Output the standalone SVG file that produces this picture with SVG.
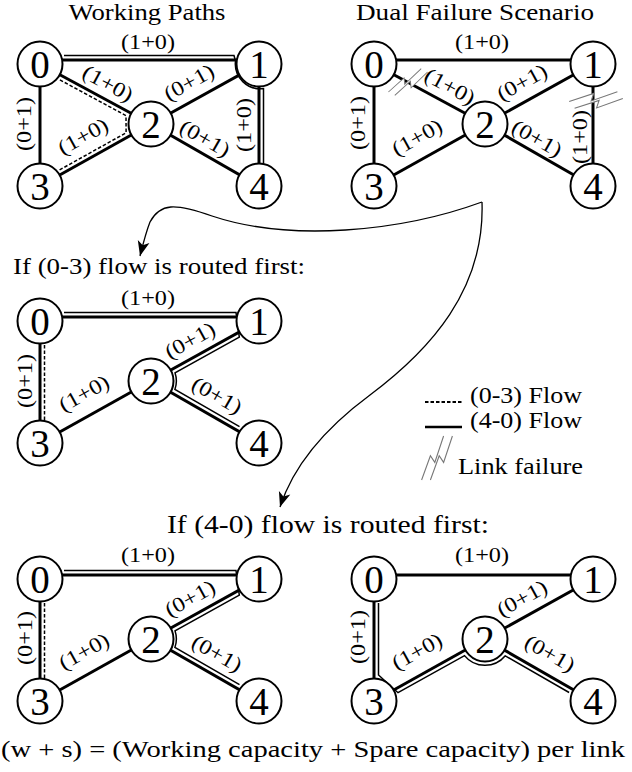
<svg xmlns="http://www.w3.org/2000/svg" xmlns:xlink="http://www.w3.org/1999/xlink" width="632" height="772" viewBox="0 0 632 772">
<style>
  .t { font-family: "Liberation Serif", "Times New Roman", serif; fill: #000; }
  .title { font-size: 24px; }
  .lbl { font-size: 21px; text-anchor: middle; }
  .node circle { fill: #fff; stroke: #000; stroke-width: 2; }
  .node text { font-family: "Liberation Serif", "Times New Roman", serif; font-size: 39px; text-anchor: middle; fill: #000; }
  .link { stroke: #000; stroke-width: 3; fill: none; }
  .flow { stroke: #000; stroke-width: 1.5; fill: none; stroke-linejoin: miter; }
  .dash { stroke-dasharray: 3.5 2; }
  .fail path.bg { fill: #fff; stroke: none; }
  .fail path.ln { fill: none; stroke: #777; stroke-width: 1; }
  .arrow { stroke: #000; stroke-width: 1.3; fill: none; marker-end: url(#ah); }
</style>
<defs>
  <marker id="ah" viewBox="-16 -7 17 14" refX="0" refY="0" markerWidth="17" markerHeight="14" markerUnits="userSpaceOnUse" orient="auto">
    <path d="M0,0 L-15,-6 L-11,0 L-15,6 Z" fill="#000"/>
  </marker>
  <g id="bolt" class="fail">
    <path class="bg" d="M-14,20 L-6,-2 L-2,4 L6,-20 L14,-20 L6,4 L2,-2 L-6,20 Z"/>
    <path class="ln" d="M-14,20 L-6,-2 L-2,4 L6,-20"/>
    <path class="ln" d="M-6,20 L2,-2 L6,4 L14,-20"/>
  </g>
</defs>
<rect width="632" height="772" fill="#fff"/>

<!-- Titles -->
<text class="t title" x="147" y="20" text-anchor="middle" textLength="157" lengthAdjust="spacingAndGlyphs">Working Paths</text>
<text class="t title" x="475" y="20" text-anchor="middle" textLength="238" lengthAdjust="spacingAndGlyphs">Dual Failure Scenario</text>
<text class="t title" x="13" y="274" textLength="292" lengthAdjust="spacingAndGlyphs">If (0-3) flow is routed first:</text>
<text class="t title" x="328" y="533" text-anchor="middle" textLength="322" lengthAdjust="spacingAndGlyphs" style="font-size:25px">If (4-0) flow is routed first:</text>
<text class="t title" x="1" y="757" textLength="624" lengthAdjust="spacingAndGlyphs">(w + s) = (Working capacity + Spare capacity) per link</text>

<!-- Panel 1: Working Paths -->
<g id="panel1" transform="translate(0,0)">
  <g id="p1-connectors">
    <path class="link" d="M40,60 H259"/>
    <path class="link" d="M40,64 L151,124"/>
    <path class="link" d="M40,64 V186"/>
    <path class="link" d="M259,64 L151,124"/>
    <path class="link" d="M259,64 V186"/>
    <path class="link" d="M151,124 L40,186"/>
    <path class="link" d="M151,124 L259,186"/>
    <path class="flow dash" d="M59.9,79.9 L126,115.6 L126.1,132.8 L59.6,169.9"/>
    <path class="flow" d="M64,55.5 H234 L235.5,61 A25,25 0 0 0 263.5,88.6 V163"/>
    <g class="t lbl">
      <text x="148" y="49" textLength="54" lengthAdjust="spacingAndGlyphs">(1+0)</text>
      <text transform="translate(107,85) rotate(28.4)" y="5" textLength="54" lengthAdjust="spacingAndGlyphs">(1+0)</text>
      <text transform="translate(190,84) rotate(-29)" y="5" textLength="54" lengthAdjust="spacingAndGlyphs">(0+1)</text>
      <text transform="translate(84,138) rotate(-29.2)" y="5" textLength="54" lengthAdjust="spacingAndGlyphs">(1+0)</text>
      <text transform="translate(204,140) rotate(29.9)" y="5" textLength="54" lengthAdjust="spacingAndGlyphs">(0+1)</text>
      <text transform="translate(26,124) rotate(-90)" y="5" textLength="54" lengthAdjust="spacingAndGlyphs">(0+1)</text>
      <text transform="translate(246,125) rotate(-90)" y="5" textLength="54" lengthAdjust="spacingAndGlyphs">(1+0)</text>
    </g>
  </g>
  <g id="p1-n0" class="node" transform="translate(40,64)"><circle r="22.5"/><text y="13.5">0</text></g>
  <g id="p1-n1" class="node" transform="translate(259,64)"><circle r="22.5"/><text y="13.5">1</text></g>
  <g id="p1-n2" class="node" transform="translate(151,124)"><circle r="22.5"/><text y="13.5">2</text></g>
  <g id="p1-n3" class="node" transform="translate(40,186)"><circle r="22.5"/><text y="13.5">3</text></g>
  <g id="p1-n4" class="node" transform="translate(259,186)"><circle r="22.5"/><text y="13.5">4</text></g>
</g>

<!-- Panel 2: Dual Failure Scenario -->
<g id="panel2" transform="translate(334,0)">
  <g id="p2-connectors">
    <path class="link" d="M40,60 H259"/>
    <path class="link" d="M40,64 L151,124"/>
    <path class="link" d="M40,64 V186"/>
    <path class="link" d="M259,64 L151,124"/>
    <path class="link" d="M259,64 V186"/>
    <path class="link" d="M151,124 L40,186"/>
    <path class="link" d="M151,124 L259,186"/>
    <use xlink:href="#bolt" href="#bolt" transform="translate(74,82) rotate(28) scale(0.9)"/>
    <use xlink:href="#bolt" href="#bolt" transform="translate(262,100) rotate(52) scale(1.1)"/>
    <g class="t lbl">
      <text x="148" y="49" textLength="54" lengthAdjust="spacingAndGlyphs">(1+0)</text>
      <text transform="translate(115,88) rotate(28.4)" y="5" textLength="54" lengthAdjust="spacingAndGlyphs">(1+0)</text>
      <text transform="translate(189,84) rotate(-29)" y="5" textLength="54" lengthAdjust="spacingAndGlyphs">(0+1)</text>
      <text transform="translate(84,139) rotate(-29.2)" y="5" textLength="54" lengthAdjust="spacingAndGlyphs">(1+0)</text>
      <text transform="translate(202,140) rotate(29.9)" y="5" textLength="54" lengthAdjust="spacingAndGlyphs">(0+1)</text>
      <text transform="translate(26,123) rotate(-90)" y="5" textLength="54" lengthAdjust="spacingAndGlyphs">(0+1)</text>
      <text transform="translate(248,137) rotate(-90)" y="5" textLength="54" lengthAdjust="spacingAndGlyphs">(1+0)</text>
    </g>
  </g>
  <g id="p2-n0" class="node" transform="translate(40,64)"><circle r="22.5"/><text y="13.5">0</text></g>
  <g id="p2-n1" class="node" transform="translate(259,64)"><circle r="22.5"/><text y="13.5">1</text></g>
  <g id="p2-n2" class="node" transform="translate(151,124)"><circle r="22.5"/><text y="13.5">2</text></g>
  <g id="p2-n3" class="node" transform="translate(40,186)"><circle r="22.5"/><text y="13.5">3</text></g>
  <g id="p2-n4" class="node" transform="translate(259,186)"><circle r="22.5"/><text y="13.5">4</text></g>
</g>

<!-- Panel 3: (0-3) routed first -->
<g id="panel3" transform="translate(0,257)">
  <g id="p3-connectors">
    <path class="link" d="M40,60 H259"/>
    <path class="link" d="M40,64 V186"/>
    <path class="link" d="M259,64 L151,124"/>
    <path class="link" d="M151,124 L40,186"/>
    <path class="link" d="M151,124 L259,186"/>
    <path class="flow dash" d="M44.5,88 V163"/>
    <path class="flow" d="M239.5,169.7 L174.9,132.5 A25.5,25.5 0 0 0 175,115.8 L239.3,80.1 L236,55.5 H64"/>
    <g class="t lbl">
      <text x="148" y="48" textLength="54" lengthAdjust="spacingAndGlyphs">(1+0)</text>
      <text transform="translate(191,85) rotate(-29)" y="5" textLength="54" lengthAdjust="spacingAndGlyphs">(0+1)</text>
      <text transform="translate(85,138) rotate(-29.2)" y="5" textLength="54" lengthAdjust="spacingAndGlyphs">(1+0)</text>
      <text transform="translate(216,140) rotate(29.9)" y="5" textLength="54" lengthAdjust="spacingAndGlyphs">(0+1)</text>
      <text transform="translate(27,124) rotate(-90)" y="5" textLength="54" lengthAdjust="spacingAndGlyphs">(0+1)</text>
    </g>
  </g>
  <g id="p3-n0" class="node" transform="translate(40,64)"><circle r="22.5"/><text y="13.5">0</text></g>
  <g id="p3-n1" class="node" transform="translate(259,64)"><circle r="22.5"/><text y="13.5">1</text></g>
  <g id="p3-n2" class="node" transform="translate(151,124)"><circle r="22.5"/><text y="13.5">2</text></g>
  <g id="p3-n3" class="node" transform="translate(40,186)"><circle r="22.5"/><text y="13.5">3</text></g>
  <g id="p3-n4" class="node" transform="translate(259,186)"><circle r="22.5"/><text y="13.5">4</text></g>
</g>

<!-- Panel 4: bottom-left -->
<g id="panel4" transform="translate(0,515)">
  <g id="p4-connectors">
    <path class="link" d="M40,60 H259"/>
    <path class="link" d="M40,64 V186"/>
    <path class="link" d="M259,64 L151,124"/>
    <path class="link" d="M151,124 L40,186"/>
    <path class="link" d="M151,124 L259,186"/>
    <path class="flow dash" d="M44.5,88 V163"/>
    <path class="flow" d="M239.5,169.7 L174.9,132.5 A25.5,25.5 0 0 0 175,115.8 L239.3,80.1 L236,55.5 H64"/>
    <g class="t lbl">
      <text x="148" y="47" textLength="54" lengthAdjust="spacingAndGlyphs">(1+0)</text>
      <text transform="translate(191,85) rotate(-29)" y="5" textLength="54" lengthAdjust="spacingAndGlyphs">(0+1)</text>
      <text transform="translate(85,138) rotate(-29.2)" y="5" textLength="54" lengthAdjust="spacingAndGlyphs">(1+0)</text>
      <text transform="translate(216,140) rotate(29.9)" y="5" textLength="54" lengthAdjust="spacingAndGlyphs">(0+1)</text>
      <text transform="translate(27,123) rotate(-90)" y="5" textLength="54" lengthAdjust="spacingAndGlyphs">(0+1)</text>
    </g>
  </g>
  <g id="p4-n0" class="node" transform="translate(40,64)"><circle r="22.5"/><text y="13.5">0</text></g>
  <g id="p4-n1" class="node" transform="translate(259,64)"><circle r="22.5"/><text y="13.5">1</text></g>
  <g id="p4-n2" class="node" transform="translate(151,124)"><circle r="22.5"/><text y="13.5">2</text></g>
  <g id="p4-n3" class="node" transform="translate(40,186)"><circle r="22.5"/><text y="13.5">3</text></g>
  <g id="p4-n4" class="node" transform="translate(259,186)"><circle r="22.5"/><text y="13.5">4</text></g>
</g>

<!-- Panel 5: bottom-right -->
<g id="panel5" transform="translate(334,515)">
  <g id="p5-connectors">
    <path class="link" d="M40,60 H259"/>
    <path class="link" d="M40,64 V186"/>
    <path class="link" d="M259,64 L151,124"/>
    <path class="link" d="M151,124 L40,186"/>
    <path class="link" d="M151,124 L259,186"/>
    <path class="flow" d="M44.5,88 V160 L64,177.7 L130.5,140.6 A26.4,26.4 0 0 0 171.3,140.85 L235.1,177.5"/>
    <g class="t lbl">
      <text x="148" y="47" textLength="54" lengthAdjust="spacingAndGlyphs">(1+0)</text>
      <text transform="translate(189,85) rotate(-29)" y="5" textLength="54" lengthAdjust="spacingAndGlyphs">(0+1)</text>
      <text transform="translate(84,138) rotate(-29.2)" y="5" textLength="54" lengthAdjust="spacingAndGlyphs">(1+0)</text>
      <text transform="translate(215,140) rotate(29.9)" y="5" textLength="54" lengthAdjust="spacingAndGlyphs">(0+1)</text>
      <text transform="translate(26,122) rotate(-90)" y="5" textLength="54" lengthAdjust="spacingAndGlyphs">(0+1)</text>
    </g>
  </g>
  <g id="p5-n0" class="node" transform="translate(40,64)"><circle r="22.5"/><text y="13.5">0</text></g>
  <g id="p5-n1" class="node" transform="translate(259,64)"><circle r="22.5"/><text y="13.5">1</text></g>
  <g id="p5-n2" class="node" transform="translate(151,124)"><circle r="22.5"/><text y="13.5">2</text></g>
  <g id="p5-n3" class="node" transform="translate(40,186)"><circle r="22.5"/><text y="13.5">3</text></g>
  <g id="p5-n4" class="node" transform="translate(259,186)"><circle r="22.5"/><text y="13.5">4</text></g>
</g>

<!-- Transition arrows -->
<g id="arrows">
  <path class="arrow" d="M482,202 C400,232 290,242 212,216 C175,203 160,203 150,222 C146,232 143,244 140,256"/>
  <path class="arrow" d="M482,202 C485,290 430,350 370,395 C320,432 292,470 280,507"/>
</g>

<!-- Legend -->
<g id="legend">
  <path class="flow dash" d="M425,402 H462" style="stroke-width:2"/>
  <path class="link" d="M425,427 H462" style="stroke-width:2.5"/>
  <use xlink:href="#bolt" href="#bolt" transform="translate(437,458) scale(1.1)"/>
  <text class="t title" x="470" y="403" textLength="112" lengthAdjust="spacingAndGlyphs">(0-3) Flow</text>
  <text class="t title" x="470" y="428" textLength="112" lengthAdjust="spacingAndGlyphs">(4-0) Flow</text>
  <text class="t title" x="458" y="474" textLength="125" lengthAdjust="spacingAndGlyphs">Link failure</text>
</g>
</svg>
